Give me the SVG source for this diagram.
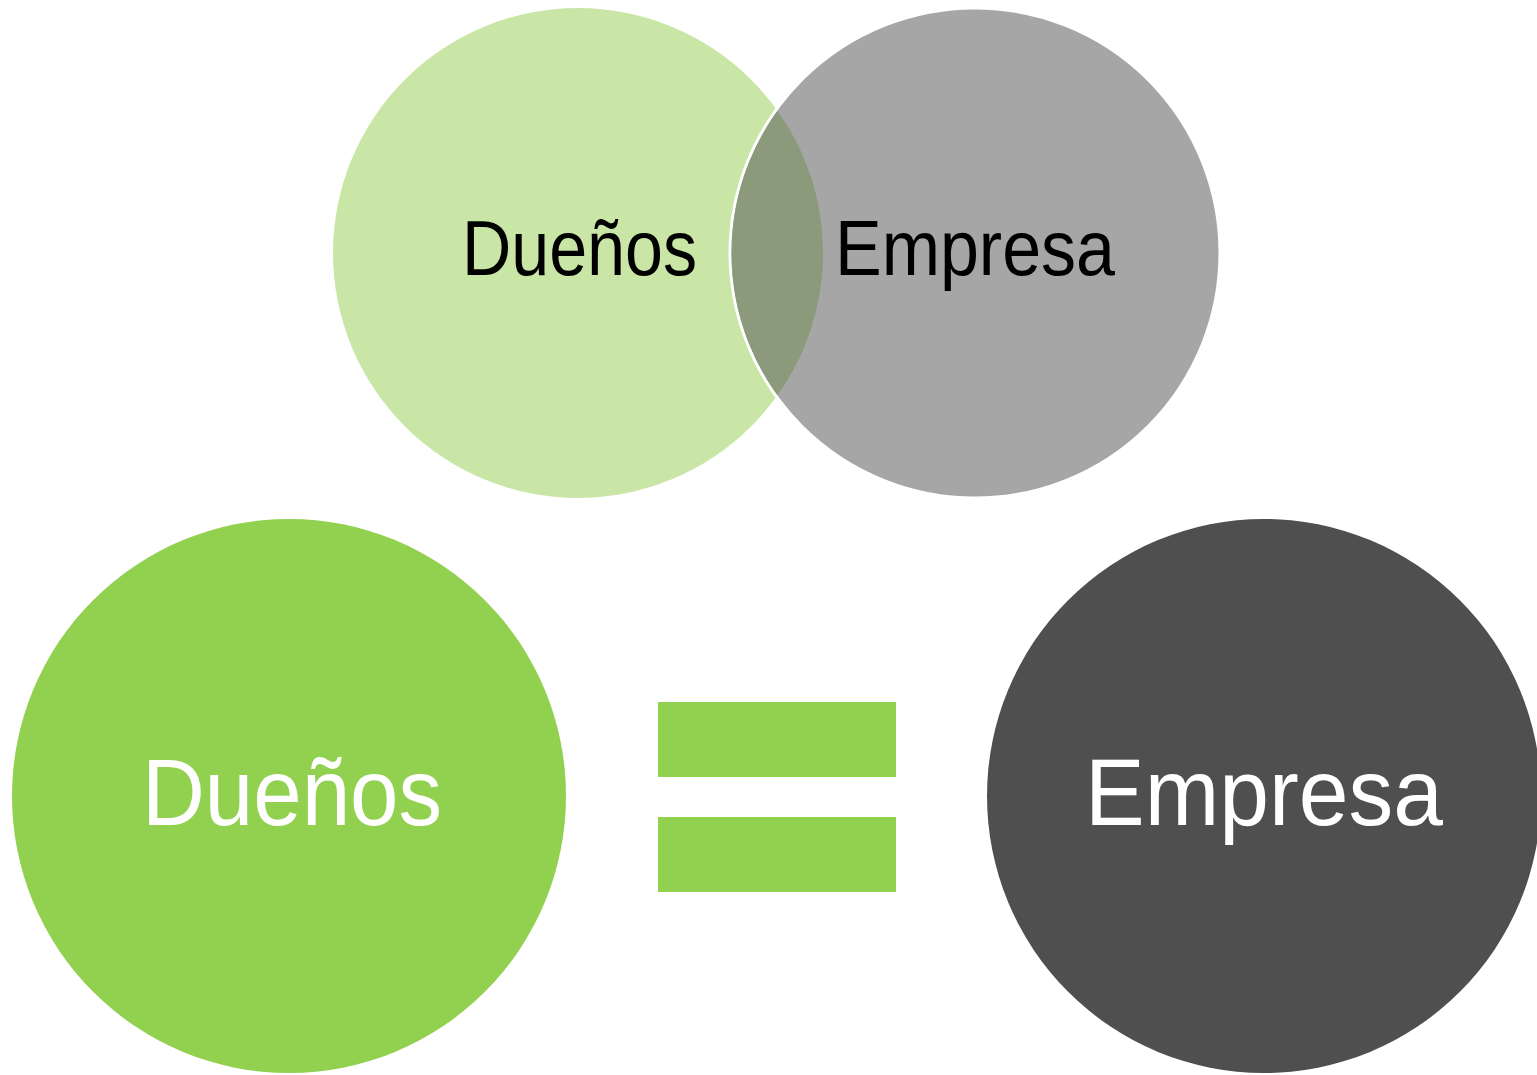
<svg xmlns="http://www.w3.org/2000/svg" width="1537" height="1075" viewBox="0 0 1537 1075">
<style>
.lbl{font-family:"Liberation Sans","Open Sans",Arial,sans-serif}
.top{font-size:77px;fill:#000}
.bot{font-size:95px;fill:#fff}
</style>
<defs>
<clipPath id="clipB"><circle cx="975" cy="253" r="243.5"/></clipPath>
</defs>
<rect width="1537" height="1075" fill="#fff"/>
<g id="venn-duenos">
<circle cx="578" cy="253" r="245" fill="#C9E6A6"/>
</g>
<g id="venn-empresa">
<circle cx="975" cy="253" r="245" fill="#A6A6A6" stroke="#fff" stroke-width="3"/>
</g>
<g id="venn-overlap">
<circle cx="578" cy="253" r="245" fill="#8A9A7A" clip-path="url(#clipB)"/>
</g>
<g id="venn-labels">
<text class="lbl top" x="462" y="275" textLength="235" lengthAdjust="spacingAndGlyphs">Dueños</text>
<text class="lbl top" x="835" y="275" textLength="280" lengthAdjust="spacingAndGlyphs">Empresa</text>
</g>
<g id="duenos">
<circle cx="289" cy="796" r="277" fill="#92D050"/>
<text class="lbl bot" x="142" y="825" textLength="300" lengthAdjust="spacingAndGlyphs">Dueños</text>
</g>
<g id="equals">
<rect x="658" y="702" width="238" height="75" fill="#92D050"/>
<rect x="658" y="817" width="238" height="75" fill="#92D050"/>
</g>
<g id="empresa">
<circle cx="1264" cy="796" r="277" fill="#4F4F4F"/>
<text class="lbl bot" x="1085" y="825" textLength="358" lengthAdjust="spacingAndGlyphs">Empresa</text>
</g>
<g id="connectors"/>
</svg>
